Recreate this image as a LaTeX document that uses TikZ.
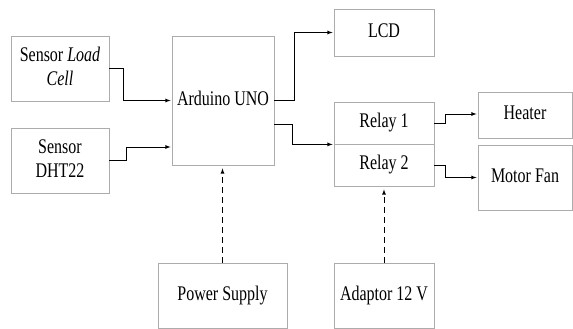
\documentclass[tikz,border=0pt]{standalone}
\usepackage{fontspec}
\setmainfont{Liberation Serif}
\usepackage{graphicx}
\usetikzlibrary{calc}

% teks blok sedikit ditinggikan seperti pada gambar asli
\newcommand{\tallt}[1]{\scalebox{1}[1.3]{\begin{tabular}{@{}c@{}}#1\end{tabular}}}

\tikzset{
  blok/.style={draw=gray!65, line width=0.8pt, inner sep=0pt,
    font=\fontsize{16}{19}\selectfont},
  panah/.style={->, line width=0.8pt, shorten >=1pt},
  daya/.style={->, line width=0.8pt, dash pattern=on 6pt off 4pt, shorten >=3pt},
}

\begin{document}
\begin{tikzpicture}[x=1pt, y=-1pt, >=latex]
  \useasboundingbox (0,0) rectangle (573,329);

  % --- 1. Sensor ---
  \node[blok, minimum width=98pt, minimum height=65pt] (load) at (60,68.5)
    {\tallt{Sensor \textit{Load}\\\textit{Cell}}};
  \node[blok, minimum width=98pt, minimum height=65pt] (dht) at (60,160.5)
    {\tallt{Sensor\\DHT22}};

  % --- 2. Arduino ---
  \node[blok, minimum width=102pt, minimum height=129pt] (ard) at (223,100.5)
    {\tallt{Arduino UNO}};

  % --- 3. Keluaran ---
  \node[blok, minimum width=100pt, minimum height=47pt] (lcd) at (384,32.5)
    {\tallt{LCD}};
  \node[blok, minimum width=100pt, minimum height=42pt] (relay1) at (384,123)
    {\tallt{Relay 1}};
  \node[blok, minimum width=100pt, minimum height=42pt] (relay2) at (384,165)
    {\tallt{Relay 2}};
  \node[blok, minimum width=94pt, minimum height=46pt] (heater) at (525,115)
    {\tallt{Heater}};
  \node[blok, minimum width=94pt, minimum height=65pt] (fan) at (525,177.5)
    {\tallt{Motor Fan}};

  % --- 4. Catu daya ---
  \node[blok, minimum width=129pt, minimum height=65pt] (power) at (222.5,295.5)
    {\tallt{Power Supply}};
  \node[blok, minimum width=100pt, minimum height=65pt] (adaptor) at (384,295.5)
    {\tallt{Adaptor 12 V}};

  % --- 5. Panah sinyal ---
  \draw[panah] (load.east) -- ++(14,0) |- (ard.west);
  \draw[panah] (dht.east) -- ++(17,0) |- ($(ard.west)+(0,46.5)$);
  \draw[panah] (ard.east) -- ++(20,0) |- (lcd.west);
  \draw[panah] ($(ard.east)+(0,23.5)$) -- ++(18,0) |- (relay1.south west);
  \draw[panah] (relay1.east) -- ++(11,0) |- ($(heater.west)+(0,-1)$);
  \draw[panah] (relay2.east) -- ++(11,0) |- (fan.west);

  % --- 6. Panah daya (putus-putus) ---
  \draw[daya] (power.north) -- (power.north |- ard.south);
  \draw[daya] (adaptor.north) -- (relay2.south);

\end{tikzpicture}
\end{document}
